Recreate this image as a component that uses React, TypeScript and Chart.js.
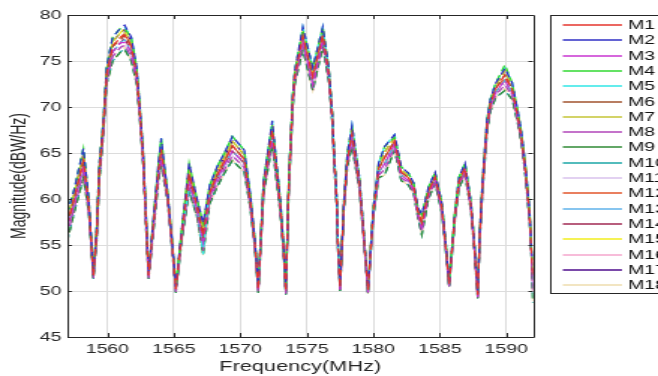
import React, { useEffect, useRef } from 'react';
import { Chart, registerables } from 'chart.js';

Chart.register(...registerables);

// Frequency axis (MHz)
const freq = [
  1557.0, 1557.5, 1558.2, 1558.6, 1558.95, 1559.2, 1559.4, 1559.7, 1559.95, 1560.4,
  1561.0, 1561.3, 1561.8, 1562.2, 1562.45, 1562.7, 1562.95, 1563.1, 1563.5, 1563.85,
  1564.05, 1564.55, 1564.9, 1565.15, 1565.6, 1566.15, 1566.75, 1567.2, 1567.7, 1568.25,
  1568.8, 1569.4, 1570.3, 1570.75, 1571.1, 1571.35, 1571.75, 1572.4, 1573.0, 1573.25,
  1573.42, 1573.65, 1573.95, 1574.1, 1574.7, 1575.45, 1576.2, 1576.65, 1576.9, 1577.05,
  1577.25, 1577.35, 1577.5, 1577.8, 1578.05, 1578.4, 1578.95, 1579.25, 1579.6, 1580.0,
  1580.4, 1580.85, 1581.6, 1582.1, 1582.65, 1583.05, 1583.35, 1583.65, 1584.15, 1584.65,
  1585.15, 1585.45, 1585.7, 1586.15, 1586.45, 1586.9, 1587.35, 1587.6, 1587.85, 1588.0,
  1588.2, 1588.4, 1588.55, 1588.8, 1589.2, 1589.9, 1590.45, 1590.85, 1591.15, 1591.45,
  1591.75, 1591.9, 1592.0,
];

// Magnitude (dBW/Hz) per series
const M1 = [
  57.3, 60.0, 64.2, 59.4, 51.7, 56.4, 63.1, 67.9, 73.6, 76.6,
  77.6, 77.8, 76.6, 73.6, 69.4, 64.4, 56.4, 51.7, 57.9, 63.2,
  65.4, 60.1, 54.6, 50.2, 56.3, 62.7, 59.2, 56.0, 60.7, 62.6,
  64.1, 65.8, 64.3, 59.9, 55.1, 50.2, 61.4, 67.5, 59.4, 54.6,
  50.0, 61.8, 70.9, 73.4, 77.7, 73.3, 77.8, 73.7, 69.2, 64.8,
  59.7, 54.8, 50.4, 59.6, 64.4, 67.1, 61.8, 56.6, 50.1, 58.6,
  63.3, 64.5, 66.3, 62.9, 62.3, 61.2, 58.7, 57.4, 60.8, 62.4,
  59.2, 54.8, 50.8, 58.4, 61.9, 63.4, 59.2, 54.8, 49.6, 55.9,
  61.2, 65.1, 68.0, 70.3, 72.0, 73.5, 71.9, 69.1, 66.7, 63.0,
  58.3, 54.1, 51.6,
];
const M2 = [
  58.5, 61.0, 65.5, 60.0, 52.0, 57.0, 63.9, 68.5, 74.4, 77.6,
  78.6, 78.9, 77.6, 74.4, 70.0, 65.0, 57.0, 52.0, 58.5, 64.0,
  66.6, 60.5, 55.0, 50.5, 56.8, 63.9, 60.0, 57.4, 61.5, 63.5,
  65.0, 66.8, 65.3, 60.5, 55.5, 50.5, 62.0, 68.5, 60.0, 55.0,
  50.3, 62.4, 71.5, 74.0, 78.7, 74.3, 78.7, 74.3, 69.7, 65.3,
  60.2, 55.2, 50.6, 60.0, 65.0, 68.0, 62.4, 57.0, 50.3, 59.0,
  63.9, 65.7, 67.0, 63.5, 62.8, 61.7, 59.1, 58.3, 61.3, 62.9,
  59.6, 55.2, 51.0, 58.8, 62.4, 63.9, 59.6, 55.2, 49.8, 56.3,
  61.7, 65.7, 68.6, 70.8, 72.6, 74.2, 72.6, 69.7, 67.2, 63.5,
  58.8, 54.5, 53.5,
];
const M3 = [
  56.7, 59.5, 63.6, 59.1, 51.6, 56.1, 62.8, 67.6, 73.3, 76.0,
  77.0, 77.0, 76.0, 73.3, 69.1, 64.1, 56.1, 51.6, 57.6, 62.8,
  64.9, 59.9, 54.4, 50.1, 56.0, 62.0, 58.8, 55.3, 60.3, 62.2,
  63.7, 65.2, 63.9, 59.6, 54.9, 50.1, 61.1, 66.9, 59.1, 54.4,
  49.9, 61.6, 70.6, 73.1, 77.2, 72.5, 77.4, 73.4, 69.0, 64.5,
  59.5, 54.6, 50.2, 59.4, 64.1, 66.6, 61.6, 56.4, 49.9, 58.4,
  62.9, 63.8, 66.0, 62.6, 62.0, 61.0, 58.4, 57.0, 60.5, 62.2,
  58.9, 54.7, 50.6, 58.2, 61.7, 63.1, 59.0, 54.7, 49.4, 55.7,
  61.0, 64.9, 67.8, 70.0, 71.6, 72.9, 71.5, 68.9, 66.5, 62.8,
  58.0, 53.9, 50.6,
];
const M4 = [
  58.5, 61.0, 65.5, 60.0, 52.0, 57.0, 63.9, 68.5, 74.4, 77.6,
  78.6, 78.5, 77.6, 74.4, 70.0, 65.0, 57.0, 52.0, 58.5, 64.0,
  66.6, 60.5, 55.0, 50.5, 56.8, 63.9, 60.0, 57.4, 61.5, 63.5,
  65.0, 66.8, 65.3, 60.5, 55.5, 50.5, 62.0, 68.1, 60.0, 55.0,
  50.3, 62.4, 71.5, 74.0, 78.4, 74.3, 78.7, 74.3, 69.7, 65.3,
  60.2, 55.2, 50.6, 60.0, 65.0, 68.0, 62.4, 57.0, 50.3, 59.0,
  63.9, 65.7, 66.7, 63.5, 62.8, 61.7, 59.1, 58.3, 61.3, 62.9,
  59.6, 55.2, 51.0, 58.8, 62.4, 63.9, 59.6, 55.2, 49.8, 56.3,
  61.7, 65.7, 68.6, 70.8, 72.6, 74.6, 72.6, 69.7, 67.2, 63.5,
  58.8, 54.5, 53.5,
];
const M5 = [
  58.5, 61.0, 65.5, 60.0, 52.0, 57.0, 63.9, 68.5, 74.4, 77.6,
  78.6, 78.7, 77.6, 74.4, 70.0, 65.0, 57.0, 52.0, 58.5, 64.0,
  66.6, 60.5, 55.0, 50.5, 56.8, 61.0, 60.0, 54.0, 61.5, 63.5,
  65.0, 66.8, 65.3, 60.5, 55.5, 50.5, 62.0, 68.5, 60.0, 55.0,
  50.3, 62.4, 71.5, 74.0, 78.7, 74.3, 78.7, 74.3, 69.7, 65.3,
  60.2, 55.2, 50.6, 60.0, 65.0, 68.0, 62.4, 57.0, 50.3, 59.0,
  63.9, 65.7, 67.0, 63.5, 62.8, 61.7, 59.1, 58.3, 61.3, 62.9,
  59.6, 55.2, 51.0, 58.8, 62.4, 63.9, 59.6, 55.2, 49.8, 56.3,
  61.7, 65.7, 68.6, 70.8, 72.6, 74.3, 72.6, 69.7, 67.2, 63.5,
  58.8, 54.5, 53.5,
];
const M6 = [
  57.3, 60.0, 64.2, 59.4, 51.7, 56.4, 63.1, 67.9, 73.6, 76.6,
  77.3, 77.8, 76.6, 73.6, 69.4, 64.4, 56.4, 51.7, 57.9, 63.2,
  65.4, 60.1, 54.6, 50.2, 56.3, 62.7, 59.2, 56.0, 60.7, 62.6,
  64.1, 65.8, 64.3, 59.9, 55.1, 50.2, 61.4, 67.5, 59.4, 54.6,
  50.0, 61.8, 70.9, 73.4, 77.5, 73.3, 77.8, 73.7, 69.2, 64.8,
  59.7, 54.8, 50.4, 59.6, 64.4, 67.1, 61.8, 56.6, 50.1, 58.6,
  63.3, 64.5, 66.3, 62.9, 62.3, 61.2, 58.7, 57.4, 60.8, 62.4,
  59.2, 54.8, 50.8, 58.4, 61.9, 63.4, 59.2, 54.8, 49.6, 55.9,
  61.2, 65.1, 68.0, 70.3, 72.0, 73.5, 71.9, 69.1, 66.7, 63.0,
  58.3, 54.1, 51.6,
];
const M7 = [
  57.9, 60.5, 64.9, 59.7, 51.9, 56.7, 63.5, 68.2, 74.0, 77.1,
  78.1, 78.1, 77.1, 74.0, 69.7, 64.7, 56.7, 51.9, 58.2, 63.6,
  66.0, 60.3, 54.8, 50.4, 56.5, 63.3, 59.6, 56.7, 61.1, 63.1,
  64.6, 66.3, 64.8, 60.2, 55.3, 50.4, 61.7, 68.0, 59.7, 54.8,
  50.2, 62.1, 71.2, 73.7, 77.9, 73.8, 78.3, 74.0, 69.5, 65.0,
  60.0, 55.0, 50.5, 59.8, 64.7, 67.5, 62.1, 56.8, 50.2, 58.8,
  63.6, 65.1, 66.7, 63.2, 62.5, 61.5, 58.9, 57.9, 61.0, 62.7,
  59.4, 55.0, 50.9, 58.6, 62.2, 63.6, 59.4, 55.0, 49.7, 56.1,
  61.5, 65.4, 68.3, 70.5, 72.3, 74.0, 72.2, 69.4, 67.0, 63.3,
  58.5, 54.3, 52.5,
];
const M8 = [
  56.1, 59.0, 62.9, 58.8, 51.4, 55.8, 62.4, 67.3, 72.9, 75.5,
  76.5, 76.7, 75.5, 72.9, 68.8, 63.8, 55.8, 51.4, 57.3, 62.4,
  64.3, 59.7, 54.2, 49.9, 55.8, 61.4, 58.4, 54.6, 59.9, 61.7,
  63.2, 64.7, 63.4, 59.3, 54.7, 49.9, 60.8, 66.4, 58.8, 54.2,
  49.7, 61.3, 70.3, 72.8, 76.7, 72.3, 76.9, 73.1, 68.7, 64.3,
  59.2, 54.4, 50.1, 59.2, 63.8, 66.2, 61.3, 56.2, 49.8, 58.2,
  62.6, 63.2, 65.6, 62.3, 61.8, 60.7, 58.2, 56.5, 60.3, 61.9,
  58.7, 54.5, 50.5, 58.0, 61.4, 62.9, 58.8, 54.5, 49.3, 55.5,
  60.7, 64.6, 67.5, 69.8, 71.3, 72.4, 71.2, 68.6, 66.2, 62.5,
  57.8, 53.7, 49.7,
];
const M9 = [
  55.5, 58.5, 62.3, 58.5, 51.3, 55.5, 62.0, 67.0, 72.5, 75.0,
  76.0, 76.2, 75.0, 72.5, 68.5, 63.5, 55.5, 51.3, 57.0, 62.0,
  63.7, 59.5, 54.0, 49.8, 55.5, 60.8, 58.0, 53.9, 59.5, 61.3,
  62.8, 64.2, 62.9, 59.0, 54.5, 49.8, 60.5, 65.9, 58.5, 54.0,
  49.6, 61.0, 70.0, 72.5, 76.2, 71.8, 76.5, 72.8, 68.5, 64.0,
  59.0, 54.2, 50.0, 59.0, 63.5, 65.7, 61.0, 56.0, 49.7, 58.0,
  62.3, 62.6, 65.3, 62.0, 61.5, 60.5, 58.0, 56.1, 60.0, 61.7,
  58.5, 54.3, 50.4, 57.8, 61.2, 62.6, 58.6, 54.3, 49.2, 55.3,
  60.5, 64.3, 67.2, 69.5, 71.0, 71.8, 70.8, 68.3, 66.0, 62.3,
  57.5, 53.5, 48.7,
];
const M10 = [
  55.5, 58.5, 62.3, 58.5, 51.3, 55.5, 62.0, 67.0, 72.5, 75.0,
  76.0, 76.4, 75.0, 72.5, 68.5, 63.5, 55.5, 51.3, 57.0, 62.0,
  63.7, 59.5, 54.0, 49.8, 55.5, 60.9, 58.0, 54.0, 59.5, 61.3,
  62.8, 64.2, 62.9, 59.0, 54.5, 49.8, 60.5, 65.9, 58.5, 54.0,
  49.6, 61.0, 70.0, 72.5, 76.2, 71.8, 76.5, 72.8, 68.5, 64.0,
  59.0, 54.2, 50.0, 59.0, 63.5, 65.7, 61.0, 56.0, 49.7, 58.0,
  62.3, 62.6, 65.3, 62.0, 61.5, 60.5, 58.0, 56.1, 60.0, 61.7,
  58.5, 54.3, 50.4, 57.8, 61.2, 62.6, 58.6, 54.3, 49.2, 55.3,
  60.5, 64.3, 67.2, 69.5, 71.0, 71.8, 70.8, 68.3, 66.0, 62.3,
  57.5, 53.5, 48.7,
];
const M11 = [
  56.1, 59.0, 62.9, 58.8, 51.4, 55.8, 62.4, 67.3, 72.9, 75.5,
  76.5, 76.9, 75.5, 72.9, 68.8, 63.8, 55.8, 51.4, 57.3, 62.4,
  64.3, 59.7, 54.2, 49.9, 55.8, 61.4, 58.4, 54.6, 59.9, 61.7,
  63.2, 64.7, 63.4, 59.3, 54.7, 49.9, 60.8, 66.4, 58.8, 54.2,
  49.7, 61.3, 70.3, 72.8, 76.7, 72.3, 76.9, 73.1, 68.7, 64.3,
  59.2, 54.4, 50.1, 59.2, 63.8, 66.2, 61.3, 56.2, 49.8, 58.2,
  62.6, 63.2, 65.6, 62.3, 61.8, 60.7, 58.2, 56.5, 60.3, 61.9,
  58.7, 54.5, 50.5, 58.0, 61.4, 62.9, 58.8, 54.5, 49.3, 55.5,
  60.7, 64.6, 67.5, 69.8, 71.3, 72.4, 71.2, 68.6, 66.2, 62.5,
  57.8, 53.7, 49.7,
];
const M12 = [
  57.3, 60.0, 64.2, 59.4, 51.7, 56.4, 63.1, 67.9, 73.6, 76.6,
  77.6, 78.0, 76.6, 73.6, 69.4, 64.4, 56.4, 51.7, 57.9, 63.2,
  65.4, 60.1, 54.6, 50.2, 56.3, 62.7, 59.2, 56.0, 60.7, 62.6,
  64.1, 65.8, 64.3, 59.9, 55.1, 50.2, 61.4, 67.5, 59.4, 54.6,
  50.0, 61.8, 70.9, 73.4, 77.7, 73.3, 77.8, 73.7, 69.2, 64.8,
  59.7, 54.8, 50.4, 59.6, 64.4, 67.1, 61.8, 56.6, 50.1, 58.6,
  63.3, 64.5, 66.3, 62.9, 62.3, 61.2, 58.7, 57.4, 60.8, 62.4,
  59.2, 54.8, 50.8, 58.4, 61.9, 63.4, 59.2, 54.8, 49.6, 55.9,
  61.2, 65.1, 68.0, 70.3, 72.0, 73.2, 71.9, 69.1, 66.7, 63.0,
  58.3, 54.1, 51.6,
];
const M13 = [
  56.7, 59.5, 63.6, 59.1, 51.6, 56.1, 62.8, 67.6, 73.3, 76.0,
  77.0, 77.3, 76.0, 73.3, 69.1, 64.1, 56.1, 51.6, 57.6, 62.8,
  64.9, 59.9, 54.4, 50.1, 56.0, 62.0, 58.8, 55.3, 60.3, 62.2,
  63.7, 65.2, 63.9, 59.6, 54.9, 50.1, 61.1, 66.9, 59.1, 54.4,
  49.9, 61.6, 70.6, 73.1, 77.2, 72.8, 77.4, 73.4, 69.0, 64.5,
  59.5, 54.6, 50.2, 59.4, 64.1, 66.6, 61.6, 56.4, 49.9, 58.4,
  62.9, 63.8, 66.0, 62.6, 62.0, 61.0, 58.4, 57.0, 60.5, 62.2,
  58.9, 54.7, 50.6, 58.2, 61.7, 63.1, 59.0, 54.7, 49.4, 55.7,
  61.0, 64.9, 67.8, 70.0, 71.6, 72.9, 71.5, 68.9, 66.5, 62.8,
  58.0, 53.9, 50.6,
];
const M14 = [
  56.7, 59.5, 63.6, 59.1, 51.6, 56.1, 62.8, 67.6, 73.3, 76.0,
  77.0, 77.5, 76.0, 73.3, 69.1, 64.1, 56.1, 51.6, 57.6, 62.8,
  64.9, 59.9, 54.4, 50.1, 56.0, 62.0, 58.8, 55.3, 60.3, 62.2,
  63.7, 65.2, 63.9, 59.6, 54.9, 50.1, 61.1, 67.2, 59.1, 54.4,
  49.9, 61.6, 70.6, 73.1, 77.2, 72.8, 77.4, 73.4, 69.0, 64.5,
  59.5, 54.6, 50.2, 59.4, 64.1, 66.6, 61.6, 56.4, 49.9, 58.4,
  62.9, 63.8, 66.0, 62.6, 62.0, 61.0, 58.4, 57.0, 60.5, 62.2,
  58.9, 54.7, 50.6, 58.2, 61.7, 63.1, 59.0, 54.7, 49.4, 55.7,
  61.0, 64.9, 67.8, 70.0, 71.6, 72.9, 71.5, 68.9, 66.5, 62.8,
  58.0, 53.9, 50.6,
];
const M15 = [
  57.9, 60.5, 64.5, 59.7, 51.9, 56.7, 63.5, 68.2, 74.0, 77.1,
  78.1, 78.6, 77.1, 74.0, 69.7, 64.7, 56.7, 51.9, 58.2, 63.6,
  66.0, 60.3, 54.8, 50.4, 56.5, 63.3, 59.6, 56.7, 61.1, 63.1,
  64.6, 66.3, 64.8, 60.2, 55.3, 50.4, 61.7, 68.0, 59.7, 54.8,
  50.2, 62.1, 71.2, 73.7, 78.2, 73.8, 78.5, 74.0, 69.5, 65.0,
  60.0, 55.0, 50.5, 59.8, 64.7, 67.5, 62.1, 56.8, 50.2, 58.8,
  63.6, 65.1, 66.7, 63.2, 62.5, 61.5, 58.9, 57.9, 61.0, 62.7,
  59.4, 55.0, 50.9, 58.6, 62.2, 63.6, 59.4, 55.0, 49.7, 56.1,
  61.5, 65.4, 68.3, 70.5, 72.3, 74.0, 72.2, 69.4, 67.0, 63.3,
  58.5, 54.3, 52.5,
];
const M16 = [
  56.1, 59.0, 62.9, 58.8, 51.4, 55.8, 62.4, 67.3, 72.9, 75.5,
  76.5, 76.7, 75.5, 72.9, 68.8, 63.8, 55.8, 51.4, 57.3, 62.4,
  64.3, 59.7, 54.2, 49.9, 55.8, 61.4, 58.4, 54.6, 59.9, 61.7,
  63.2, 64.7, 63.4, 59.3, 54.7, 49.9, 60.8, 66.4, 58.8, 54.2,
  49.7, 61.3, 70.3, 72.8, 76.7, 71.6, 76.9, 73.1, 68.7, 64.3,
  59.2, 54.4, 50.1, 59.2, 63.8, 66.2, 61.3, 56.2, 49.8, 58.2,
  62.6, 63.2, 65.6, 62.3, 61.8, 60.7, 58.2, 56.5, 60.3, 61.9,
  58.7, 54.5, 50.5, 58.0, 61.4, 62.9, 58.8, 54.5, 49.3, 55.5,
  60.7, 64.6, 67.5, 69.8, 71.3, 72.4, 71.2, 68.6, 66.2, 62.5,
  57.8, 53.7, 49.7,
];
const M17 = [
  57.9, 60.5, 64.9, 59.7, 51.9, 56.7, 63.5, 68.2, 74.0, 77.1,
  78.1, 78.4, 77.1, 74.0, 69.7, 64.7, 56.7, 51.9, 58.2, 63.6,
  66.0, 60.3, 54.8, 50.4, 56.5, 63.3, 59.6, 56.7, 61.1, 63.1,
  64.6, 66.3, 64.8, 60.2, 55.3, 50.4, 61.7, 68.0, 59.7, 54.8,
  50.2, 62.1, 71.2, 73.7, 78.2, 73.8, 78.3, 74.0, 69.5, 65.0,
  60.0, 55.0, 50.5, 59.8, 64.7, 67.5, 62.1, 56.8, 50.2, 58.8,
  63.6, 65.1, 66.7, 63.2, 62.5, 61.5, 58.9, 57.9, 61.0, 62.7,
  59.4, 55.0, 50.9, 58.6, 62.2, 63.6, 59.4, 55.0, 49.7, 56.1,
  61.5, 65.4, 68.3, 70.5, 72.3, 74.0, 72.2, 69.4, 67.0, 63.3,
  58.5, 54.3, 52.5,
];
const M18 = [
  55.5, 58.5, 62.3, 58.5, 51.3, 55.5, 62.0, 67.0, 72.5, 75.0,
  76.0, 76.5, 75.0, 72.5, 68.5, 63.5, 55.5, 51.3, 57.0, 62.0,
  63.7, 59.5, 54.0, 49.8, 55.5, 60.8, 58.0, 53.9, 59.5, 61.3,
  62.8, 64.2, 62.9, 59.0, 54.5, 49.8, 60.5, 65.9, 58.5, 54.0,
  49.6, 61.0, 70.0, 72.5, 76.2, 71.8, 76.5, 72.8, 68.5, 64.0,
  59.0, 54.2, 50.0, 59.0, 63.5, 65.7, 61.0, 56.0, 49.7, 58.0,
  62.3, 62.6, 65.3, 62.0, 61.5, 60.5, 58.0, 56.1, 60.0, 61.7,
  58.5, 54.3, 50.4, 57.8, 61.2, 62.6, 58.6, 54.3, 49.2, 55.3,
  60.5, 64.3, 67.2, 69.5, 71.0, 72.0, 70.8, 68.3, 66.0, 62.3,
  57.5, 53.5, 48.7,
];

const seriesNames = ['M1', 'M2', 'M3', 'M4', 'M5', 'M6', 'M7', 'M8', 'M9', 'M10', 'M11', 'M12', 'M13', 'M14', 'M15', 'M16', 'M17', 'M18'];
const seriesValues = [M1, M2, M3, M4, M5, M6, M7, M8, M9, M10, M11, M12, M13, M14, M15, M16, M17, M18];
const seriesColors = [
  '#e4342c', '#2f2fc4', '#c834d0', '#30d830', '#30e6e6', '#a0522d',
  '#c4c436', '#b044b8', '#2f8a34', '#1aa6a6', '#d8c2ec', '#e2552a',
  '#5fb2ea', '#a02852', '#f2ee1c', '#f4a6cc', '#4e0c8c', '#eedcae',
];

const xTicks = [1560, 1565, 1570, 1575, 1580, 1585, 1590];
const yTicks = [45, 50, 55, 60, 65, 70, 75, 80];

const FONT = '"Liberation Sans", Arial, Helvetica, sans-serif';

const framePlugin = {
  id: 'frameBox',
  afterDatasetsDraw(chart: any) {
    const { ctx, chartArea: a, scales } = chart;
    ctx.save();
    ctx.strokeStyle = '#262626';
    ctx.lineWidth = 1;
    ctx.setLineDash([]);
    ctx.beginPath();
    ctx.rect(Math.round(a.left) + 0.5, Math.round(a.top) + 0.5, Math.round(a.right - a.left), Math.round(a.bottom - a.top));
    ctx.stroke();
    ctx.beginPath();
    xTicks.forEach((v) => {
      const x = Math.round(scales.x.getPixelForValue(v)) + 0.5;
      ctx.moveTo(x, a.bottom); ctx.lineTo(x, a.bottom - 4);
      ctx.moveTo(x, a.top); ctx.lineTo(x, a.top + 4);
    });
    yTicks.forEach((v) => {
      const y = Math.round(scales.y.getPixelForValue(v)) + 0.5;
      ctx.moveTo(a.left, y); ctx.lineTo(a.left + 3, y);
      ctx.moveTo(a.right, y); ctx.lineTo(a.right - 3, y);
    });
    ctx.stroke();
    ctx.restore();
  },
};

const boxLegendPlugin = {
  id: 'boxLegend',
  afterDraw(chart: any) {
    const ctx = chart.ctx;
    ctx.save();
    ctx.setLineDash([]);
    ctx.fillStyle = '#ffffff';
    ctx.fillRect(367.5, 15.5, 80, 278);
    ctx.strokeStyle = '#262626';
    ctx.lineWidth = 1;
    ctx.strokeRect(367.5, 15.5, 80, 278);
    ctx.font = `13px ${FONT}`;
    ctx.textBaseline = 'middle';
    ctx.textAlign = 'left';
    chart.data.datasets.forEach((ds: any, i: number) => {
      const y = Math.round(25 + i * 15.3);
      ctx.strokeStyle = seriesColors[i];
      ctx.lineWidth = 1.6;
      ctx.beginPath();
      ctx.moveTo(375.5, y);
      ctx.lineTo(415, y);
      ctx.stroke();
      ctx.fillStyle = '#111111';
      ctx.fillText(ds.label, 419, y + 0.5);
    });
    ctx.restore();
  },
};

export default function App() {
  const canvasRef = useRef<HTMLCanvasElement | null>(null);

  useEffect(() => {
    const canvas = canvasRef.current;
    if (!canvas) return;
    const datasets = seriesNames.map((name, i) => ({
      label: name,
      data: freq.map((f, j) => ({ x: f, y: seriesValues[i][j] })),
      borderColor: seriesColors[i],
      backgroundColor: seriesColors[i],
      borderWidth: 1.2,
      borderDash: [6, 4],
      borderDashOffset: i % 3,
      pointRadius: 0,
      tension: 0,
      fill: false,
    }));
    const chart = new Chart(canvas, {
      type: 'line',
      data: { datasets },
      plugins: [framePlugin, boxLegendPlugin],
      options: {
        animation: false,
        responsive: false,
        maintainAspectRatio: false,
        devicePixelRatio: 1,
        layout: { padding: { top: 15, right: 83.5, left: 0, bottom: 0 } },
        plugins: {
          legend: { display: false },
          tooltip: { enabled: false },
          title: { display: false },
        },
        scales: {
          x: {
            type: 'linear',
            min: 1557,
            max: 1592,
            afterBuildTicks: (scale: any) => { scale.ticks = xTicks.map((v) => ({ value: v })); },
            afterFit: (scale: any) => { scale.height = 39; },
            grid: { color: '#dcdcdc', lineWidth: 1, drawTicks: false },
            border: { display: false },
            ticks: {
              color: '#262626',
              font: { family: FONT, size: 13 },
              padding: 5,
              maxRotation: 0,
              autoSkip: false,
              callback: (v: any) => String(v),
            },
            title: {
              display: true,
              text: 'Frequency(MHz)',
              color: '#262626',
              font: { family: FONT, size: 14.5 },
              padding: { top: 0, bottom: 0 },
            },
          },
          y: {
            min: 45,
            max: 80,
            afterBuildTicks: (scale: any) => { scale.ticks = yTicks.map((v) => ({ value: v })); },
            afterFit: (scale: any) => { scale.width = 45; },
            grid: { color: '#dcdcdc', lineWidth: 1, drawTicks: false },
            border: { display: false },
            ticks: {
              color: '#262626',
              font: { family: FONT, size: 13 },
              padding: 4,
              autoSkip: false,
              callback: (v: any) => String(v),
            },
            title: {
              display: true,
              text: 'Magnitude(dBW/Hz)',
              color: '#262626',
              font: { family: FONT, size: 14 },
              padding: { top: 5, bottom: 0 },
            },
          },
        },
      },
    } as any);
    return () => chart.destroy();
  }, []);

  return (
    <div style={{ position: 'fixed', left: 0, top: 0, width: 658, height: 376, background: '#ffffff', overflow: 'hidden' }}>
      <canvas
        ref={canvasRef}
        width={439}
        height={376}
        style={{ width: '658px', height: '376px', display: 'block' }}
      />
    </div>
  );
}
